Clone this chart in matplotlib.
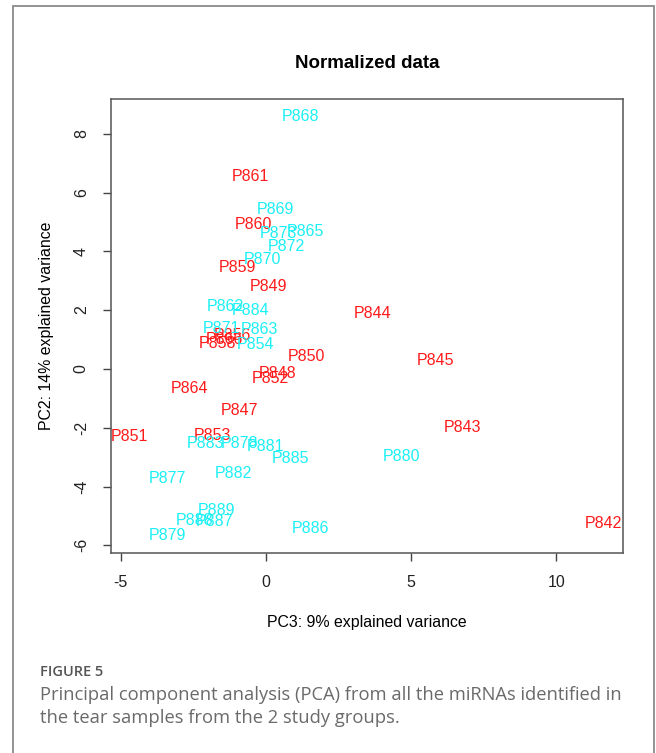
import matplotlib.pyplot as plt
from matplotlib.patches import Rectangle

# Sample labels and PCA coordinates (PC3, PC2)
red_labels = ["P861", "P860", "P859", "P849", "P844", "P866", "P856", "P858",
              "P850", "P845", "P848", "P852", "P864", "P847", "P843", "P851",
              "P853", "P842"]
red_x = [-0.55, -0.45, -0.97, 0.07, 3.66, -1.45, -1.15, -1.69,
         1.38, 5.83, 0.41, 0.14, -2.62, -0.93, 6.76, -4.69,
         -1.86, 11.62]
red_y = [6.53, 4.90, 3.44, 2.79, 1.90, 1.00, 1.12, 0.88,
         0.41, 0.27, -0.14, -0.34, -0.68, -1.43, -2.00, -2.31,
         -2.28, -5.24]

cyan_labels = ["P868", "P869", "P865", "P873", "P872", "P870", "P862", "P884",
               "P871", "P863", "P854", "P883", "P878", "P881", "P885", "P880",
               "P882", "P877", "P889", "P887", "P888", "P879", "P886"]
cyan_x = [1.17, 0.31, 1.34, 0.41, 0.69, -0.14, -1.41, -0.55,
          -1.55, -0.24, -0.38, -2.10, -0.90, -0.03, 0.83, 4.66,
          -1.14, -3.38, -1.72, -1.79, -2.45, -3.38, 1.52]
cyan_y = [8.60, 5.41, 4.69, 4.59, 4.18, 3.71, 2.11, 2.00,
          1.39, 1.33, 0.82, -2.52, -2.52, -2.65, -3.06, -2.99,
          -3.57, -3.74, -4.80, -5.20, -5.17, -5.68, -5.41]

x_ticks = [-5, 0, 5, 10]
y_ticks = [-6, -4, -2, 0, 2, 4, 6, 8]

plt.rcParams["font.family"] = ["Liberation Sans", "DejaVu Sans"]
plt.rcParams["axes.unicode_minus"] = False

fig = plt.figure(figsize=(6.56, 7.53), dpi=100)

# outer frame of the figure panel
fig.patches.append(Rectangle((13 / 656, -0.05), 641 / 656, 1 - 6 / 753 + 0.05,
                             transform=fig.transFigure, fill=False,
                             edgecolor="#8a8a8a", linewidth=1.3))

ax = fig.add_axes([111 / 656, 1 - 553 / 753, 512 / 656, 454 / 753])
ax.set_xlim(-5.34, 12.29)
ax.set_ylim(-6.26, 9.18)

for lab, x, y in zip(red_labels, red_x, red_y):
    ax.text(x, y, lab, color="#ff1a1a", fontsize=11.5,
            ha="center", va="center", clip_on=False)
for lab, x, y in zip(cyan_labels, cyan_x, cyan_y):
    ax.text(x, y, lab, color="#1af0f5", fontsize=11.5,
            ha="center", va="center", clip_on=False)

ax.set_xticks(x_ticks)
ax.set_yticks(y_ticks)
ax.set_xticklabels([str(v) for v in x_ticks])
ax.set_yticklabels([str(v) for v in y_ticks], rotation=90, va="center")
ax.tick_params(direction="out", length=6, width=1, colors="#444444",
               labelcolor="#222222", labelsize=11.5, pad=10)
for s in ax.spines.values():
    s.set_color("#555555")
    s.set_linewidth(1.1)

ax.set_title("Normalized data", fontsize=13.5, fontweight="bold", pad=22)
ax.set_xlabel("PC3: 9% explained variance", fontsize=11.4, labelpad=18)
ax.set_ylabel("PC2: 14% explained variance", fontsize=11.4, labelpad=14)

# caption
fig.text(40 / 656, 1 - 672 / 753, "FIGURE 5", fontsize=10.5, color="#555555",
         family=["Open Sans", "DejaVu Sans"], fontweight="semibold", va="center")
fig.text(40 / 656, 1 - 695 / 753,
         "Principal component analysis (PCA) from all the miRNAs identified in",
         fontsize=13.2, color="#6a6a6a", family=["Open Sans", "DejaVu Sans"],
         va="center")
fig.text(40 / 656, 1 - 718 / 753,
         "the tear samples from the 2 study groups.",
         fontsize=13.2, color="#6a6a6a", family=["Open Sans", "DejaVu Sans"],
         va="center")

fig.savefig("out.png", dpi=100)
